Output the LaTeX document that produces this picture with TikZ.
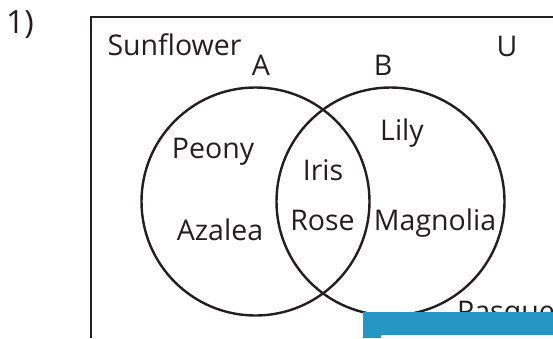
\documentclass[tikz,border=0pt]{standalone}
\usepackage{fontspec}
\setmainfont{Open Sans}
\definecolor{ink}{HTML}{231F20}
\definecolor{barblue}{HTML}{2697C5}
\begin{document}
\begin{tikzpicture}[x=1pt,y=-1pt,
  lbl/.style={anchor=base,inner sep=0pt,text=ink,font=\fontsize{28.5}{30}\selectfont},
  setc/.style={draw=ink,line width=2.4pt},
  frame/.style={draw=ink,line width=2pt}]
\useasboundingbox (0,0) rectangle (553,338);
% frame
\draw[frame] (91,338) -- (91,17) -- (553,17);
% circles
\node[setc,circle,minimum size=228pt,inner sep=0pt] (cA) at (255.5,201.5) {};
\node[setc,circle,minimum size=228pt,inner sep=0pt] (cB) at (390.5,201.5) {};
% labels
\node[lbl,font=\fontsize{32}{34}\selectfont] (num) at (20,33) {1)};
\node[lbl] (sun) at (174.5,55) {Sunflower};
\node[lbl] (A) at (261,75) {A};
\node[lbl] (B) at (383,75) {B};
\node[lbl] (U) at (507,56) {U};
\node[lbl] (peony) at (213,158) {Peony};
\node[lbl] (iris) at (323,180) {Iris};
\node[lbl] (lily) at (402,140) {Lily};
\node[lbl] (azalea) at (220,240) {Azalea};
\node[lbl] (rose) at (322.5,230) {Rose};
\node[lbl] (magnolia) at (435,230) {Magnolia};
\node[lbl,anchor=base west] (pasque) at (457,321) {Pasque};
% blue bar overlay
\fill[barblue] (363,312) rectangle (553,338);
\fill[white] (381,335) rectangle (553,338);
\end{tikzpicture}
\end{document}
